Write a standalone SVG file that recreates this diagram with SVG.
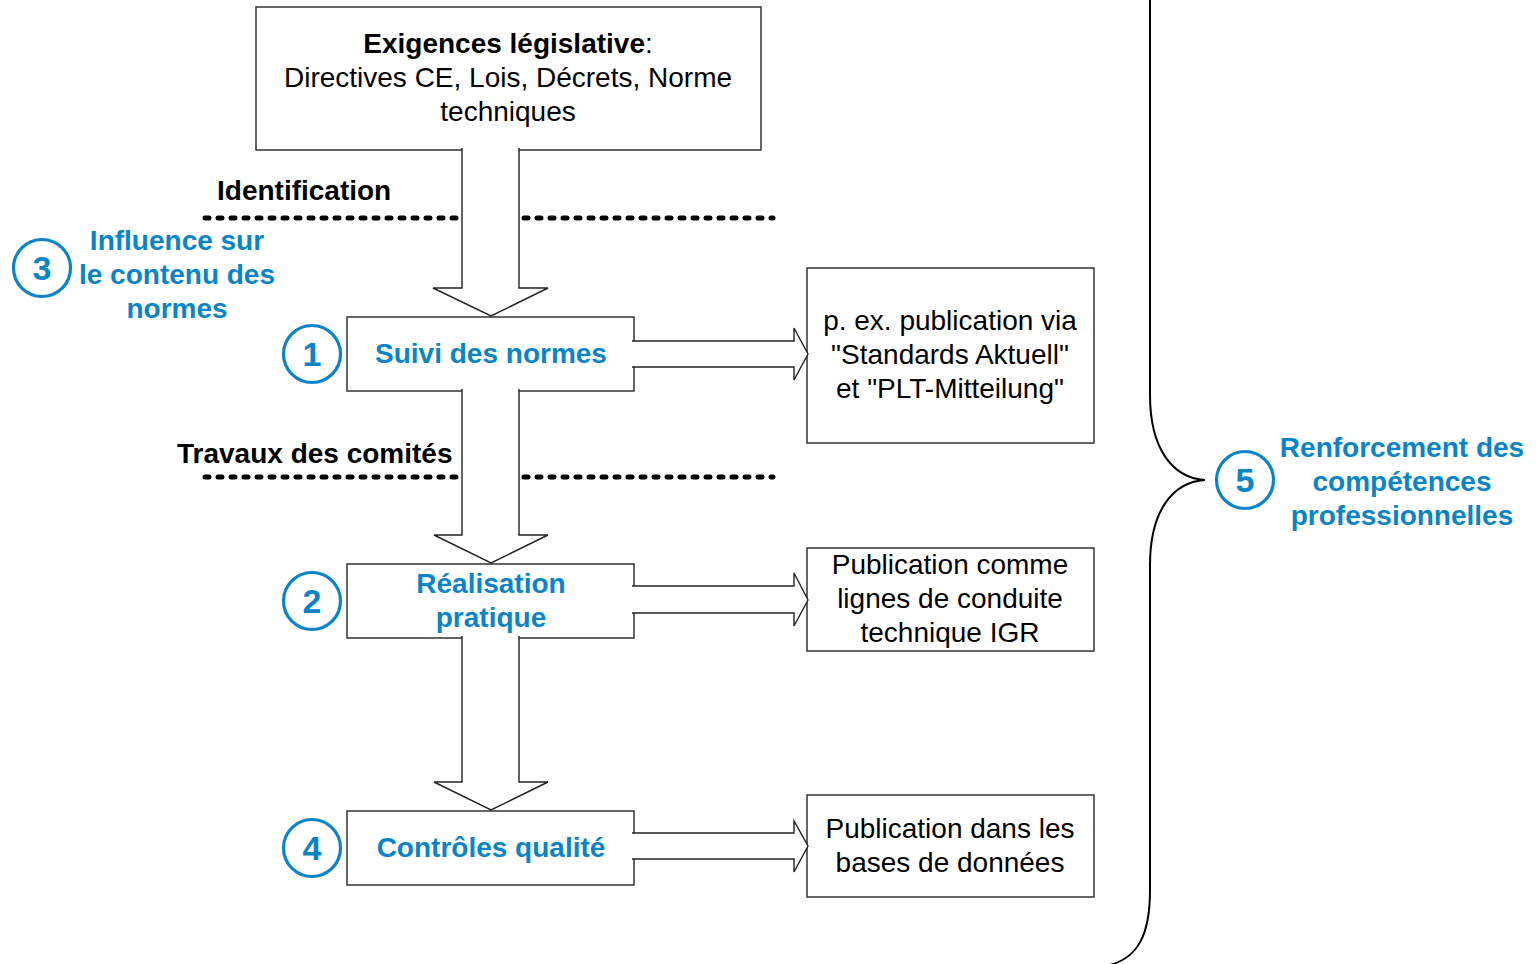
<svg xmlns="http://www.w3.org/2000/svg" width="1539" height="964" viewBox="0 0 1539 964">
<style>
.box{fill:#fff;stroke:#333;stroke-width:1.5}
.arr{fill:#fff;stroke:#222;stroke-width:1.4}
.dot{stroke:#000;stroke-width:5;stroke-linecap:round;stroke-dasharray:4 9;fill:none}
.num{fill:none;stroke:#0A84C8;stroke-width:3.2}
.t{font-family:"Liberation Sans",Arial,sans-serif;font-size:28px;fill:#000;text-anchor:middle}
.b{font-weight:bold}
.blue{fill:#0A84C8;font-weight:bold}
.n{font-family:"Liberation Sans",Arial,sans-serif;font-size:34px;font-weight:bold;fill:#0A84C8;text-anchor:middle}
</style>
<g id="top">
<rect class="box" x="256" y="7" width="505" height="143"/>
<text class="t" x="508" y="53"><tspan class="b">Exigences législative</tspan>:</text>
<text class="t" x="508" y="87">Directives CE, Lois, Décrets, Norme</text>
<text class="t" x="508" y="121">techniques</text>
</g>
<g id="suivi">
<rect class="box" x="347" y="317" width="287" height="74"/>
<text class="t blue" x="491" y="363">Suivi des normes</text>
</g>
<g id="realisation">
<rect class="box" x="347" y="564" width="287" height="74"/>
<text class="t blue" x="491" y="593">Réalisation</text>
<text class="t blue" x="491" y="627">pratique</text>
</g>
<g id="controles">
<rect class="box" x="347" y="811" width="287" height="74"/>
<text class="t blue" x="491" y="857">Contrôles qualité</text>
</g>
<g id="pub1">
<rect class="box" x="807" y="268" width="287" height="175"/>
<text class="t" x="950" y="330">p. ex. publication via</text>
<text class="t" x="950" y="364">"Standards Aktuell"</text>
<text class="t" x="950" y="398">et "PLT-Mitteilung"</text>
</g>
<g id="pub2">
<rect class="box" x="807" y="548" width="287" height="103"/>
<text class="t" x="950" y="574">Publication comme</text>
<text class="t" x="950" y="608">lignes de conduite</text>
<text class="t" x="950" y="642">technique IGR</text>
</g>
<g id="pub3">
<rect class="box" x="807" y="795" width="287" height="102"/>
<text class="t" x="950" y="838">Publication dans les</text>
<text class="t" x="950" y="872">bases de données</text>
</g>
<g id="labels">
<text class="t b" x="217" y="200" style="text-anchor:start">Identification</text>
<text class="t b" x="177" y="463" style="text-anchor:start">Travaux des comités</text>
<path class="dot" d="M205,218 H459 M524,218 H773 M205,477 H459 M524,477 H773"/>
</g>
<g id="n3">
<circle class="num" cx="42" cy="268" r="28.5"/>
<text class="n" x="42" y="280">3</text>
<text class="t blue" x="177" y="250">Influence sur</text>
<text class="t blue" x="177" y="284">le contenu des</text>
<text class="t blue" x="177" y="318">normes</text>
</g>
<g id="n1"><circle class="num" cx="312" cy="354" r="28.5"/><text class="n" x="312" y="366">1</text></g>
<g id="n2"><circle class="num" cx="312" cy="601" r="28.5"/><text class="n" x="312" y="613">2</text></g>
<g id="n4"><circle class="num" cx="312" cy="848" r="28.5"/><text class="n" x="312" y="860">4</text></g>
<g id="n5">
<circle class="num" cx="1245" cy="480" r="28.5"/>
<text class="n" x="1245" y="492">5</text>
<text class="t blue" x="1402" y="457">Renforcement des</text>
<text class="t blue" x="1402" y="491">compétences</text>
<text class="t blue" x="1402" y="525">professionnelles</text>
</g>
<g id="connectors">
<path class="arr" d="M462,148 V288 H433 L491,316 L548,288 H519 V148"/>
<path class="arr" d="M462,389 V535 H434 L491,563 L548,535 H519 V389"/>
<path class="arr" d="M462,636 V782 H434 L491,810 L548,782 H519 V636"/>
<path class="arr" d="M632,341 H794 V328 L808,354 L794,380 V367 H632"/>
<path class="arr" d="M632,586 H794 V573 L808,600 L794,626 V613 H632"/>
<path class="arr" d="M632,833 H794 V821 L808,846 L794,872 V859 H632"/>
<path d="M1150,0 V395 C1150,448 1172,478 1205,480 C1172,482 1150,512 1150,565 V890 C1150,935 1138,960 1105,966" fill="none" stroke="#000" stroke-width="2"/>
</g>
</svg>
